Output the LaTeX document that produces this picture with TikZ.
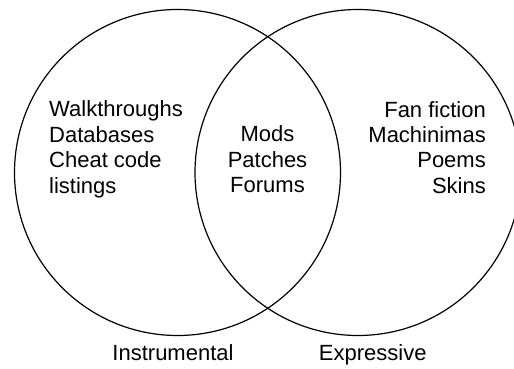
\documentclass[tikz,border=0pt]{standalone}
\usepackage{fontspec}
\setmainfont{Liberation Sans}
\begin{document}
\begin{tikzpicture}[x=1pt,y=1pt,
  ring/.style={draw=black,line width=1.2pt},
  txt/.style={inner sep=0pt,font=\fontsize{22}{25.4}\selectfont}]
\useasboundingbox (0,0) rectangle (514,-369);
\draw[ring] (177.5,-172.5) circle[radius=163];
\draw[ring] (358,-172.5) circle[radius=163];
\node[txt,anchor=base west,align=left] (inst) at (49,-193) {Walkthroughs\\Databases\\Cheat code\\listings};
\node[txt,anchor=base,align=center] (both) at (267.5,-192.7) {Mods\\Patches\\Forums};
\node[txt,anchor=base east,align=right] (expr) at (486,-193.3) {Fan fiction\\Machinimas\\Poems\\Skins};
\node[txt,anchor=base] (linst) at (173,-360) {Instrumental};
\node[txt,anchor=base] (lexpr) at (372.7,-360) {Expressive};
\end{tikzpicture}
\end{document}
